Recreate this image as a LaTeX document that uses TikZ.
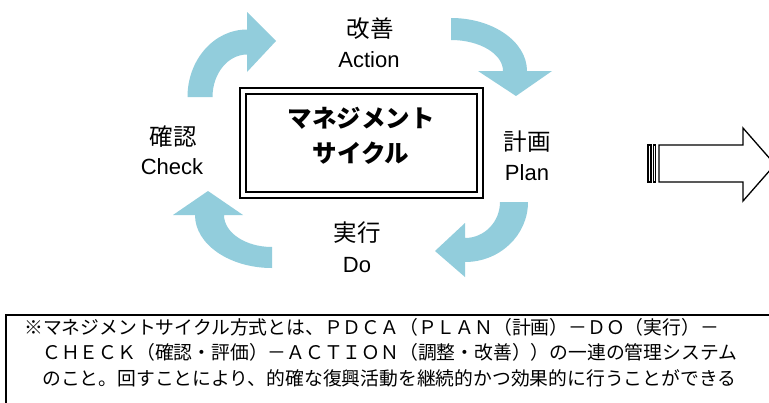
\documentclass[tikz,border=0pt]{standalone}
\usepackage{fontspec}
\setmainfont{Liberation Sans}
\newfontfamily\jp{Noto Sans CJK JP}
\definecolor{cyc}{HTML}{92CDDC}
\tikzset{
  cycarrow/.style={fill=cyc, draw=none},
  lbljp/.style={font=\jp\fontsize{23.5}{26}\selectfont, inner sep=0pt},
  lbllat/.style={font=\fontsize{22}{26}\selectfont, inner sep=0pt},
  titletext/.style={font=\jp\bfseries\fontsize{24.5}{28}\selectfont, inner sep=0pt},
  notetext/.style={font=\jp\fontsize{18.8}{20}\selectfont, anchor=base west, inner sep=0pt},
  corebox/.style={draw=black, line width=2pt, double=white, double distance=4pt,
    minimum width=237pt, minimum height=104pt, inner sep=0pt},
  bigarrow/.style={draw=black, line width=1.3pt, fill=white, line join=miter},
}
\begin{document}
\begin{tikzpicture}[x=1pt,y=-1pt]
\useasboundingbox (0,0) rectangle (769,402);
\clip (0,0) rectangle (769,402);
\fill[white] (0,0) rectangle (769,402);

% cycle arrows
% top-left (Check -> Action)
\fill[cycarrow] (187.5,97) arc[start angle=180,end angle=270,x radius=59.5,y radius=67.5]
  -- (247,12) -- (276,41) -- (247,72) -- (247,54.5)
  arc[start angle=270,end angle=180,x radius=34.5,y radius=42.5] -- cycle;
% top-right (Action -> Plan)
\fill[cycarrow] (451,18) arc[start angle=270,end angle=360,x radius=76,y radius=53]
  -- (552,71) -- (516,96) -- (478,71) -- (503,71)
  arc[start angle=360,end angle=270,x radius=52,y radius=31] -- cycle;
% bottom-right (Plan -> Do)
\fill[cycarrow] (528,202) arc[start angle=0,end angle=90,x radius=63,y radius=60]
  -- (465,277) -- (435,251) -- (465,223) -- (465,238)
  arc[start angle=90,end angle=0,x radius=35,y radius=36] -- cycle;
% bottom-left (Do -> Check)
\fill[cycarrow] (272,268) arc[start angle=90,end angle=180,x radius=77,y radius=53]
  -- (173,215) -- (208,191) -- (243,215) -- (224,215)
  arc[start angle=180,end angle=90,x radius=48,y radius=32] -- cycle;

% central box
\node[corebox] (core) at (361,143) {};
\node[titletext] (title1) at (361,118) {マネジメント};
\node[titletext] (title2) at (361,153) {サイクル};

% labels
\node[lbljp] (actjp) at (370,29) {改善};
\node[lbllat] (acten) at (369,60) {Action};
\node[lbljp] (planjp) at (527,142) {計画};
\node[lbllat] (planen) at (527,173) {Plan};
\node[lbljp] (dojp) at (357,233) {実行};
\node[lbllat] (doen) at (357,265) {Do};
\node[lbljp] (chkjp) at (173,137) {確認};
\node[lbllat] (chken) at (172,167) {Check};

% big striped arrow at right
\draw[bigarrow] (659,145) -- (743,145) -- (743,128) -- (775,164.5) -- (743,201)
  -- (743,182) -- (659,182) -- cycle;
\draw[bigarrow] (648,145) rectangle (651,182);
\draw[bigarrow] (653.5,145) rectangle (655.5,182);

% note box
\draw[line width=2pt] (6,315) rectangle (800,460);
\node[notetext] (note1) at (24,334) {※マネジメントサイクル方式とは、ＰＤＣＡ（ＰＬＡＮ（計画）－ＤＯ（実行）－};
\node[notetext] (note2) at (42,359) {ＣＨＥＣＫ（確認・評価）－ＡＣＴＩＯＮ（調整・改善））の一連の管理システム};
\node[notetext] (note3) at (42,385) {のこと。回すことにより、的確な復興活動を継続的かつ効果的に行うことができる};
\end{tikzpicture}
\end{document}
